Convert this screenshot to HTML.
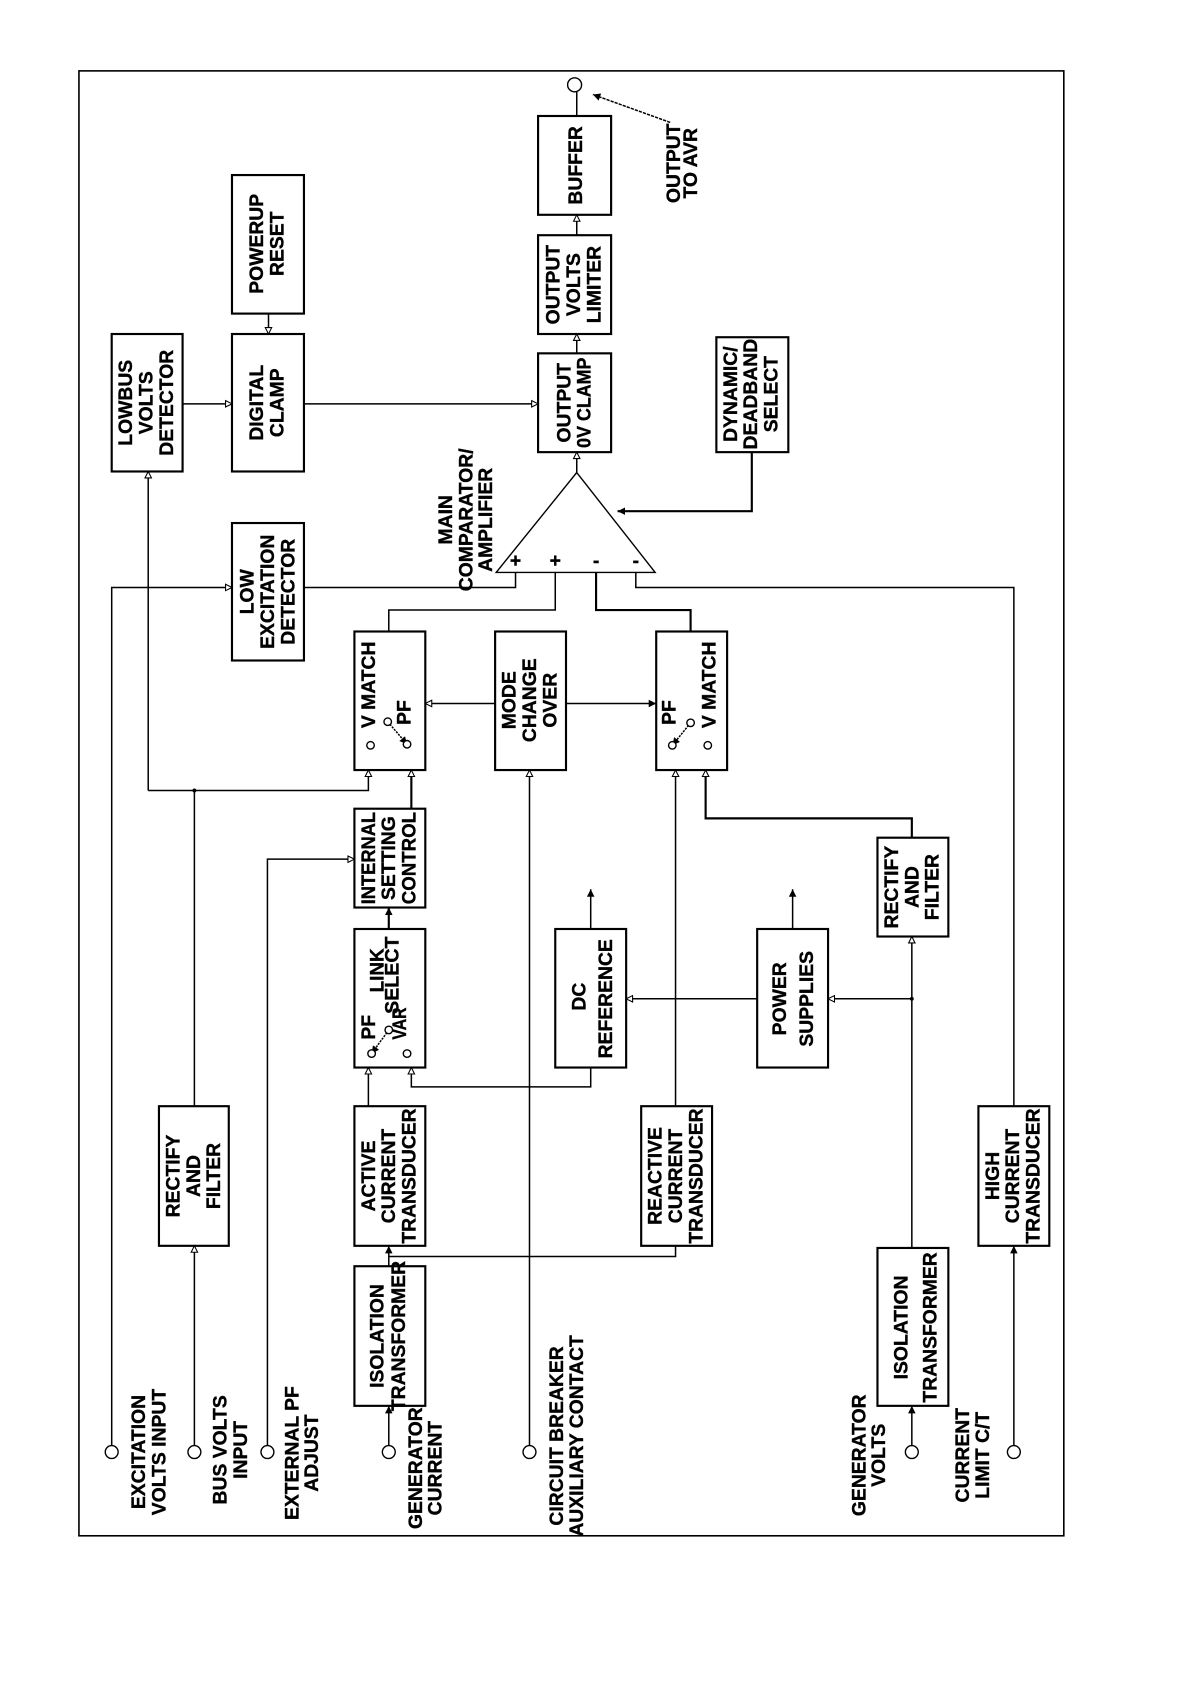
<!DOCTYPE html>
<html><head><meta charset="utf-8"><style>
html,body{margin:0;padding:0;background:#fff;}
svg{display:block;}
text{font-family:"Liberation Sans",Arial,sans-serif;font-weight:bold;font-size:18px;fill:#000;stroke:#000;stroke-width:0.35px;}
</style></head><body>
<svg width="1190" height="1684" viewBox="0 0 1108 1568" preserveAspectRatio="none" xmlns="http://www.w3.org/2000/svg">
<defs>
<marker id="a" markerWidth="10" markerHeight="10" refX="7" refY="4" orient="auto" markerUnits="userSpaceOnUse">
<path d="M1,1 L7,4 L1,7 Z" fill="#fff" stroke="#000" stroke-width="1"/></marker>
<marker id="f" markerWidth="10" markerHeight="10" refX="7" refY="4" orient="auto" markerUnits="userSpaceOnUse">
<path d="M0,0.5 L7,4 L0,7.5 Z" fill="#000"/></marker>
</defs>
<rect x="0" y="0" width="1108" height="1568" fill="#fff"/>
<rect x="73.5" y="66" width="917" height="1364" fill="none" stroke="#000" stroke-width="1.5"/>

<g fill="#fff" stroke="#000" stroke-width="2">
<rect x="104" y="311" width="66" height="128"/>
<rect x="216" y="311" width="67" height="128"/>
<rect x="216" y="163" width="67" height="129"/>
<rect x="216" y="487" width="67" height="128"/>
<rect x="501" y="329" width="68" height="92"/>
<rect x="501" y="219" width="68" height="92"/>
<rect x="501" y="108" width="68" height="92"/>
<rect x="667" y="314" width="67" height="107"/>
<rect x="330" y="588" width="66" height="129"/>
<rect x="461" y="588" width="66" height="129"/>
<rect x="611" y="588" width="66" height="129"/>
<rect x="330" y="753" width="66" height="92"/>
<rect x="330" y="865" width="66" height="129"/>
<rect x="517" y="865" width="66" height="129"/>
<rect x="705" y="865" width="66" height="129"/>
<rect x="817" y="780" width="66" height="92"/>
<rect x="148" y="1030" width="65" height="130"/>
<rect x="330" y="1030" width="66" height="130"/>
<rect x="597" y="1030" width="66" height="130"/>
<rect x="911" y="1030" width="66" height="130"/>
<rect x="330" y="1179" width="66" height="130"/>
<rect x="817" y="1162" width="66" height="147"/>
</g>
<polygon points="537,440 610,533 462,533" fill="#fff" stroke="#000" stroke-width="1.3"/>

<g fill="none" stroke="#000" stroke-width="1.4">
<path d="M104,1346 V547 H216" marker-end="url(#a)"/>
<path d="M283,547 H480 V533"/>
<path d="M181,1346 V1160" marker-end="url(#a)"/>
<path d="M181,1030 V736"/>
<path d="M138,736 H343 V717" marker-end="url(#a)"/>
<path d="M138,736 V439" marker-end="url(#a)"/>
<path d="M170,376 H216" marker-end="url(#a)"/>
<path d="M283,376 H501" marker-end="url(#a)"/>
<path d="M250,292 V311" marker-end="url(#a)"/>
<path d="M537,440 V421" marker-end="url(#a)"/>
<path d="M537,329 V311" marker-end="url(#a)"/>
<path d="M537,219 V200" marker-end="url(#a)"/>
<path d="M537,108 V85"/>
<path d="M700,421 V476 H575" stroke-width="2" marker-end="url(#f)"/>
<path d="M517,533 V568 H362 V588"/>
<path d="M555,533 V568 H643 V588" stroke-width="2"/>
<path d="M592,533 V547 H944 V1030"/>
<path d="M461,655 H396" marker-end="url(#a)"/>
<path d="M527,655 H611" marker-end="url(#f)"/>
<path d="M493,1346 V717" marker-end="url(#a)"/>
<path d="M383,753 V717" stroke-width="2" marker-end="url(#a)"/>
<path d="M362,865 V845" stroke-width="2" marker-end="url(#f)"/>
<path d="M249,1346 V800 H330" marker-end="url(#a)"/>
<path d="M550,994 V1012 H383 V994" marker-end="url(#a)"/>
<path d="M550,865 V828" marker-end="url(#f)"/>
<path d="M738,865 V828" marker-end="url(#f)"/>
<path d="M343,1030 V994" marker-end="url(#a)"/>
<path d="M362,1346 V1309" marker-end="url(#f)"/>
<path d="M362,1179 V1160" marker-end="url(#f)"/>
<path d="M362,1170 H629 V1160"/>
<path d="M629,1030 V717" marker-end="url(#a)"/>
<path d="M849,780 V762 H657 V717" stroke-width="2" marker-end="url(#a)"/>
<path d="M849,1162 V872" marker-end="url(#a)"/>
<path d="M849,930 H771" marker-end="url(#a)"/>
<path d="M705,930 H583" marker-end="url(#a)"/>
<path d="M849,1346 V1309" marker-end="url(#f)"/>
<path d="M944,1346 V1160" marker-end="url(#f)"/>
<path d="M624,114 L552,88" stroke-dasharray="3,1" marker-end="url(#f)"/>
<path d="M361,672 L379,693" stroke-dasharray="2,1" marker-end="url(#f)"/>
<path d="M643,673 L626,694" stroke-dasharray="2,1" marker-end="url(#f)"/>
<path d="M362,959 L346,981" stroke-dasharray="2,1" marker-end="url(#f)"/>
</g>
<circle cx="181" cy="736" r="1.8"/><circle cx="849" cy="930" r="1.8"/>

<g fill="#fff" stroke="#000" stroke-width="1.3">
<circle cx="104" cy="1352" r="6"/><circle cx="181" cy="1352" r="6"/><circle cx="249" cy="1352" r="6"/>
<circle cx="362" cy="1352" r="6"/><circle cx="493" cy="1352" r="6"/><circle cx="849" cy="1352" r="6"/>
<circle cx="944" cy="1352" r="6"/><circle cx="535" cy="79" r="6.5"/>
<circle cx="345" cy="694" r="3.5"/><circle cx="361" cy="672" r="3.5"/><circle cx="379" cy="693" r="3.5"/>
<circle cx="626" cy="694" r="3.5"/><circle cx="643" cy="673" r="3.5"/><circle cx="659" cy="694" r="3.5"/>
<circle cx="346" cy="981" r="3.5"/><circle cx="362" cy="959" r="3.5"/><circle cx="379" cy="981" r="3.5"/>
</g>

<g text-anchor="middle">
<text transform="translate(123,375) rotate(-90)">LOWBUS</text>
<text transform="translate(142,375) rotate(-90)">VOLTS</text>
<text transform="translate(161,375) rotate(-90)">DETECTOR</text>
<text transform="translate(245,375) rotate(-90)">DIGITAL</text>
<text transform="translate(264,375) rotate(-90)">CLAMP</text>
<text transform="translate(245,227) rotate(-90)">POWERUP</text>
<text transform="translate(264,227) rotate(-90)">RESET</text>
<text transform="translate(236,551) rotate(-90)">LOW</text>
<text transform="translate(255,551) rotate(-90)">EXCITATION</text>
<text transform="translate(274,551) rotate(-90)">DETECTOR</text>
<text transform="translate(531,375) rotate(-90)">OUTPUT</text>
<text transform="translate(550,375) rotate(-90)" textLength="84" lengthAdjust="spacingAndGlyphs">0V CLAMP</text>
<text transform="translate(521,265) rotate(-90)">OUTPUT</text>
<text transform="translate(540,265) rotate(-90)">VOLTS</text>
<text transform="translate(559,265) rotate(-90)">LIMITER</text>
<text transform="translate(542,154) rotate(-90)">BUFFER</text>
<text transform="translate(686,367) rotate(-90)">DYNAMIC/</text>
<text transform="translate(705,367) rotate(-90)">DEADBAND</text>
<text transform="translate(724,367) rotate(-90)">SELECT</text>
<text transform="translate(480,652) rotate(-90)">MODE</text>
<text transform="translate(499,652) rotate(-90)">CHANGE</text>
<text transform="translate(518,652) rotate(-90)">OVER</text>
<text transform="translate(349,799) rotate(-90)" textLength="86" lengthAdjust="spacingAndGlyphs">INTERNAL</text>
<text transform="translate(368,799) rotate(-90)">SETTING</text>
<text transform="translate(387,799) rotate(-90)" textLength="86" lengthAdjust="spacingAndGlyphs">CONTROL</text>
<text transform="translate(545,928) rotate(-90)">DC</text>
<text transform="translate(570,930) rotate(-90)">REFERENCE</text>
<text transform="translate(732,930) rotate(-90)">POWER</text>
<text transform="translate(757,930) rotate(-90)">SUPPLIES</text>
<text transform="translate(836,826) rotate(-90)">RECTIFY</text>
<text transform="translate(855,826) rotate(-90)">AND</text>
<text transform="translate(874,826) rotate(-90)">FILTER</text>
<text transform="translate(167,1095) rotate(-90)">RECTIFY</text>
<text transform="translate(186,1095) rotate(-90)">AND</text>
<text transform="translate(205,1095) rotate(-90)">FILTER</text>
<text transform="translate(349,1095) rotate(-90)">ACTIVE</text>
<text transform="translate(368,1095) rotate(-90)">CURRENT</text>
<text transform="translate(387,1095) rotate(-90)">TRANSDUCER</text>
<text transform="translate(616,1095) rotate(-90)">REACTIVE</text>
<text transform="translate(635,1095) rotate(-90)">CURRENT</text>
<text transform="translate(654,1095) rotate(-90)">TRANSDUCER</text>
<text transform="translate(930,1095) rotate(-90)">HIGH</text>
<text transform="translate(949,1095) rotate(-90)">CURRENT</text>
<text transform="translate(968,1095) rotate(-90)">TRANSDUCER</text>
<text transform="translate(357,1244) rotate(-90)">ISOLATION</text>
<text transform="translate(377,1244) rotate(-90)">TRANSFORMER</text>
<text transform="translate(845,1236) rotate(-90)">ISOLATION</text>
<text transform="translate(872,1236) rotate(-90)">TRANSFORMER</text>

<text transform="translate(135,1352) rotate(-90)">EXCITATION</text>
<text transform="translate(154,1352) rotate(-90)">VOLTS INPUT</text>
<text transform="translate(211,1350) rotate(-90)">BUS VOLTS</text>
<text transform="translate(230,1350) rotate(-90)">INPUT</text>
<text transform="translate(278,1353) rotate(-90)">EXTERNAL PF</text>
<text transform="translate(296,1353) rotate(-90)">ADJUST</text>
<text transform="translate(393,1367) rotate(-90)">GENERATOR</text>
<text transform="translate(411,1367) rotate(-90)">CURRENT</text>
<text transform="translate(524,1337) rotate(-90)">CIRCUIT BREAKER</text>
<text transform="translate(543,1337) rotate(-90)">AUXILIARY CONTACT</text>
<text transform="translate(806,1355) rotate(-90)">GENERATOR</text>
<text transform="translate(824,1355) rotate(-90)">VOLTS</text>
<text transform="translate(902,1355) rotate(-90)">CURRENT</text>
<text transform="translate(921,1355) rotate(-90)">LIMIT C/T</text>
<text transform="translate(633,152) rotate(-90)">OUTPUT</text>
<text transform="translate(649,152) rotate(-90)">TO AVR</text>
<text transform="translate(421,484) rotate(-90)">MAIN</text>
<text transform="translate(440,484) rotate(-90)">COMPARATOR/</text>
<text transform="translate(458,484) rotate(-90)">AMPLIFIER</text>
</g>

<g text-anchor="start">
<text transform="translate(349,678) rotate(-90)">V MATCH</text>
<text transform="translate(382,675) rotate(-90)">PF</text>
<text transform="translate(629,675) rotate(-90)">PF</text>
<text transform="translate(666,678) rotate(-90)">V MATCH</text>
<text transform="translate(349,968) rotate(-90)">PF</text>
<text transform="translate(357,924) rotate(-90)" textLength="41" lengthAdjust="spacingAndGlyphs">LINK</text>
<text transform="translate(371,944) rotate(-90)" textLength="72" lengthAdjust="spacingAndGlyphs">SELECT</text>
<text transform="translate(378,968) rotate(-90)" textLength="30" lengthAdjust="spacingAndGlyphs">VAR</text>
</g>

<g text-anchor="middle" style="font-size:16px">
<text x="480" y="528">+</text>
<text x="517" y="528">+</text>
<text x="555" y="528">-</text>
<text x="592" y="528">-</text>
</g>
</svg>
</body></html>
